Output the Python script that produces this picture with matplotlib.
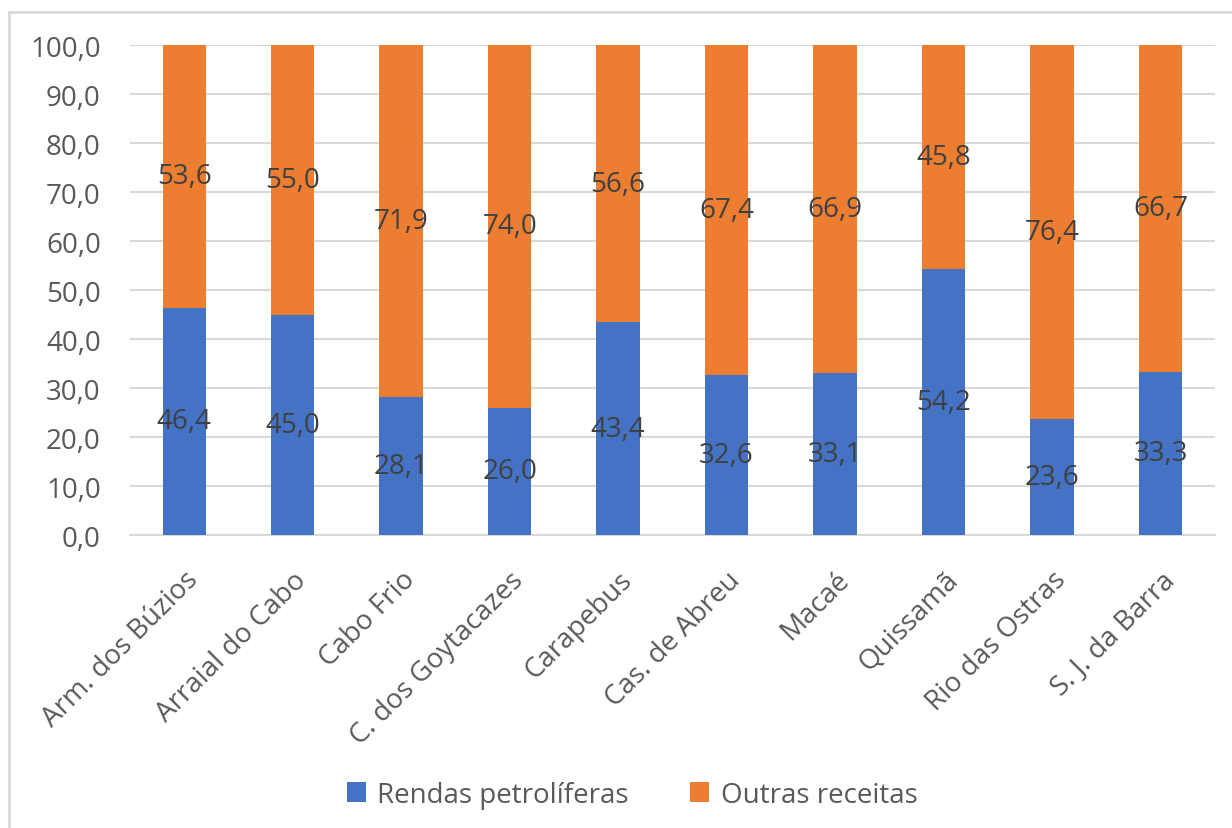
import matplotlib
matplotlib.use('Agg')
import numpy as np
from matplotlib import pyplot as plt
from matplotlib.lines import Line2D

# Participação das rendas petrolíferas nas receitas municipais (%)
municipios = ['Arm. dos Búzios', 'Arraial do Cabo', 'Cabo Frio', 'C. dos Goytacazes',
              'Carapebus', 'Cas. de Abreu', 'Macaé', 'Quissamã', 'Rio das Ostras',
              'S. J. da Barra']
rendas_petroliferas = [46.4, 45.0, 28.1, 26.0, 43.4, 32.6, 33.1, 54.2, 23.6, 33.3]
outras_receitas = [53.6, 55.0, 71.9, 74.0, 56.6, 67.4, 66.9, 45.8, 76.4, 66.7]

AZUL = '#4472C4'
LARANJA = '#ED7D31'
TEXTO = '#595959'
GRADE = '#D9D9D9'

plt.rcParams['font.family'] = ['Open Sans', 'DejaVu Sans']

fig = plt.figure(figsize=(12.32, 8.29), dpi=100)
ax = fig.add_axes([0.1055, 0.3534, 0.8805, 0.5911])

x = np.arange(len(municipios))
bar_w = 0.4
b1 = ax.bar(x, rendas_petroliferas, bar_w, color=AZUL, label='Rendas petrolíferas', zorder=3)
b2 = ax.bar(x, outras_receitas, bar_w, bottom=rendas_petroliferas, color=LARANJA,
            label='Outras receitas', zorder=3)


def fmt(v):
    return '{:.1f}'.format(v).replace('.', ',')


for bars in (b1, b2):
    for rect in bars:
        h = rect.get_height()
        ax.text(rect.get_x() + rect.get_width() / 2, rect.get_y() + h / 2, fmt(h),
                ha='center', va='center', fontsize=20, color='#404040', zorder=4)

ax.set_xlim(-0.5, len(municipios) - 0.5)
ax.set_ylim(0, 100)
ax.set_yticks(np.arange(0, 101, 10))
ax.set_yticklabels([fmt(v) for v in np.arange(0, 101, 10)], fontsize=20, color=TEXTO)
ax.set_xticks(x)
ax.set_xticklabels(municipios, rotation=45, ha='right', rotation_mode='anchor',
                   fontsize=20, color=TEXTO)
ax.tick_params(axis='both', length=0)
ax.tick_params(axis='y', pad=21)
ax.tick_params(axis='x', pad=22)
ax.grid(axis='y', color=GRADE, linewidth=1.5, zorder=0)
for side in ('top', 'right', 'left'):
    ax.spines[side].set_visible(False)
ax.spines['bottom'].set_color(GRADE)
ax.spines['bottom'].set_linewidth(1.5)

fig.legend(loc='center', bbox_to_anchor=(0.513, 0.04), ncol=2, frameon=False,
           fontsize=20, labelcolor=TEXTO, handlelength=0.7, handleheight=0.7,
           handletextpad=0.4, columnspacing=2.2)

# moldura do gráfico (só as bordas esquerda e superior aparecem)
fig.add_artist(Line2D([0.0077, 0.0077], [0, 0.984], transform=fig.transFigure,
                      color=GRADE, linewidth=2))
fig.add_artist(Line2D([0.0077, 1.0], [0.984, 0.984], transform=fig.transFigure,
                      color=GRADE, linewidth=2))

fig.savefig('out.png', dpi=100)
